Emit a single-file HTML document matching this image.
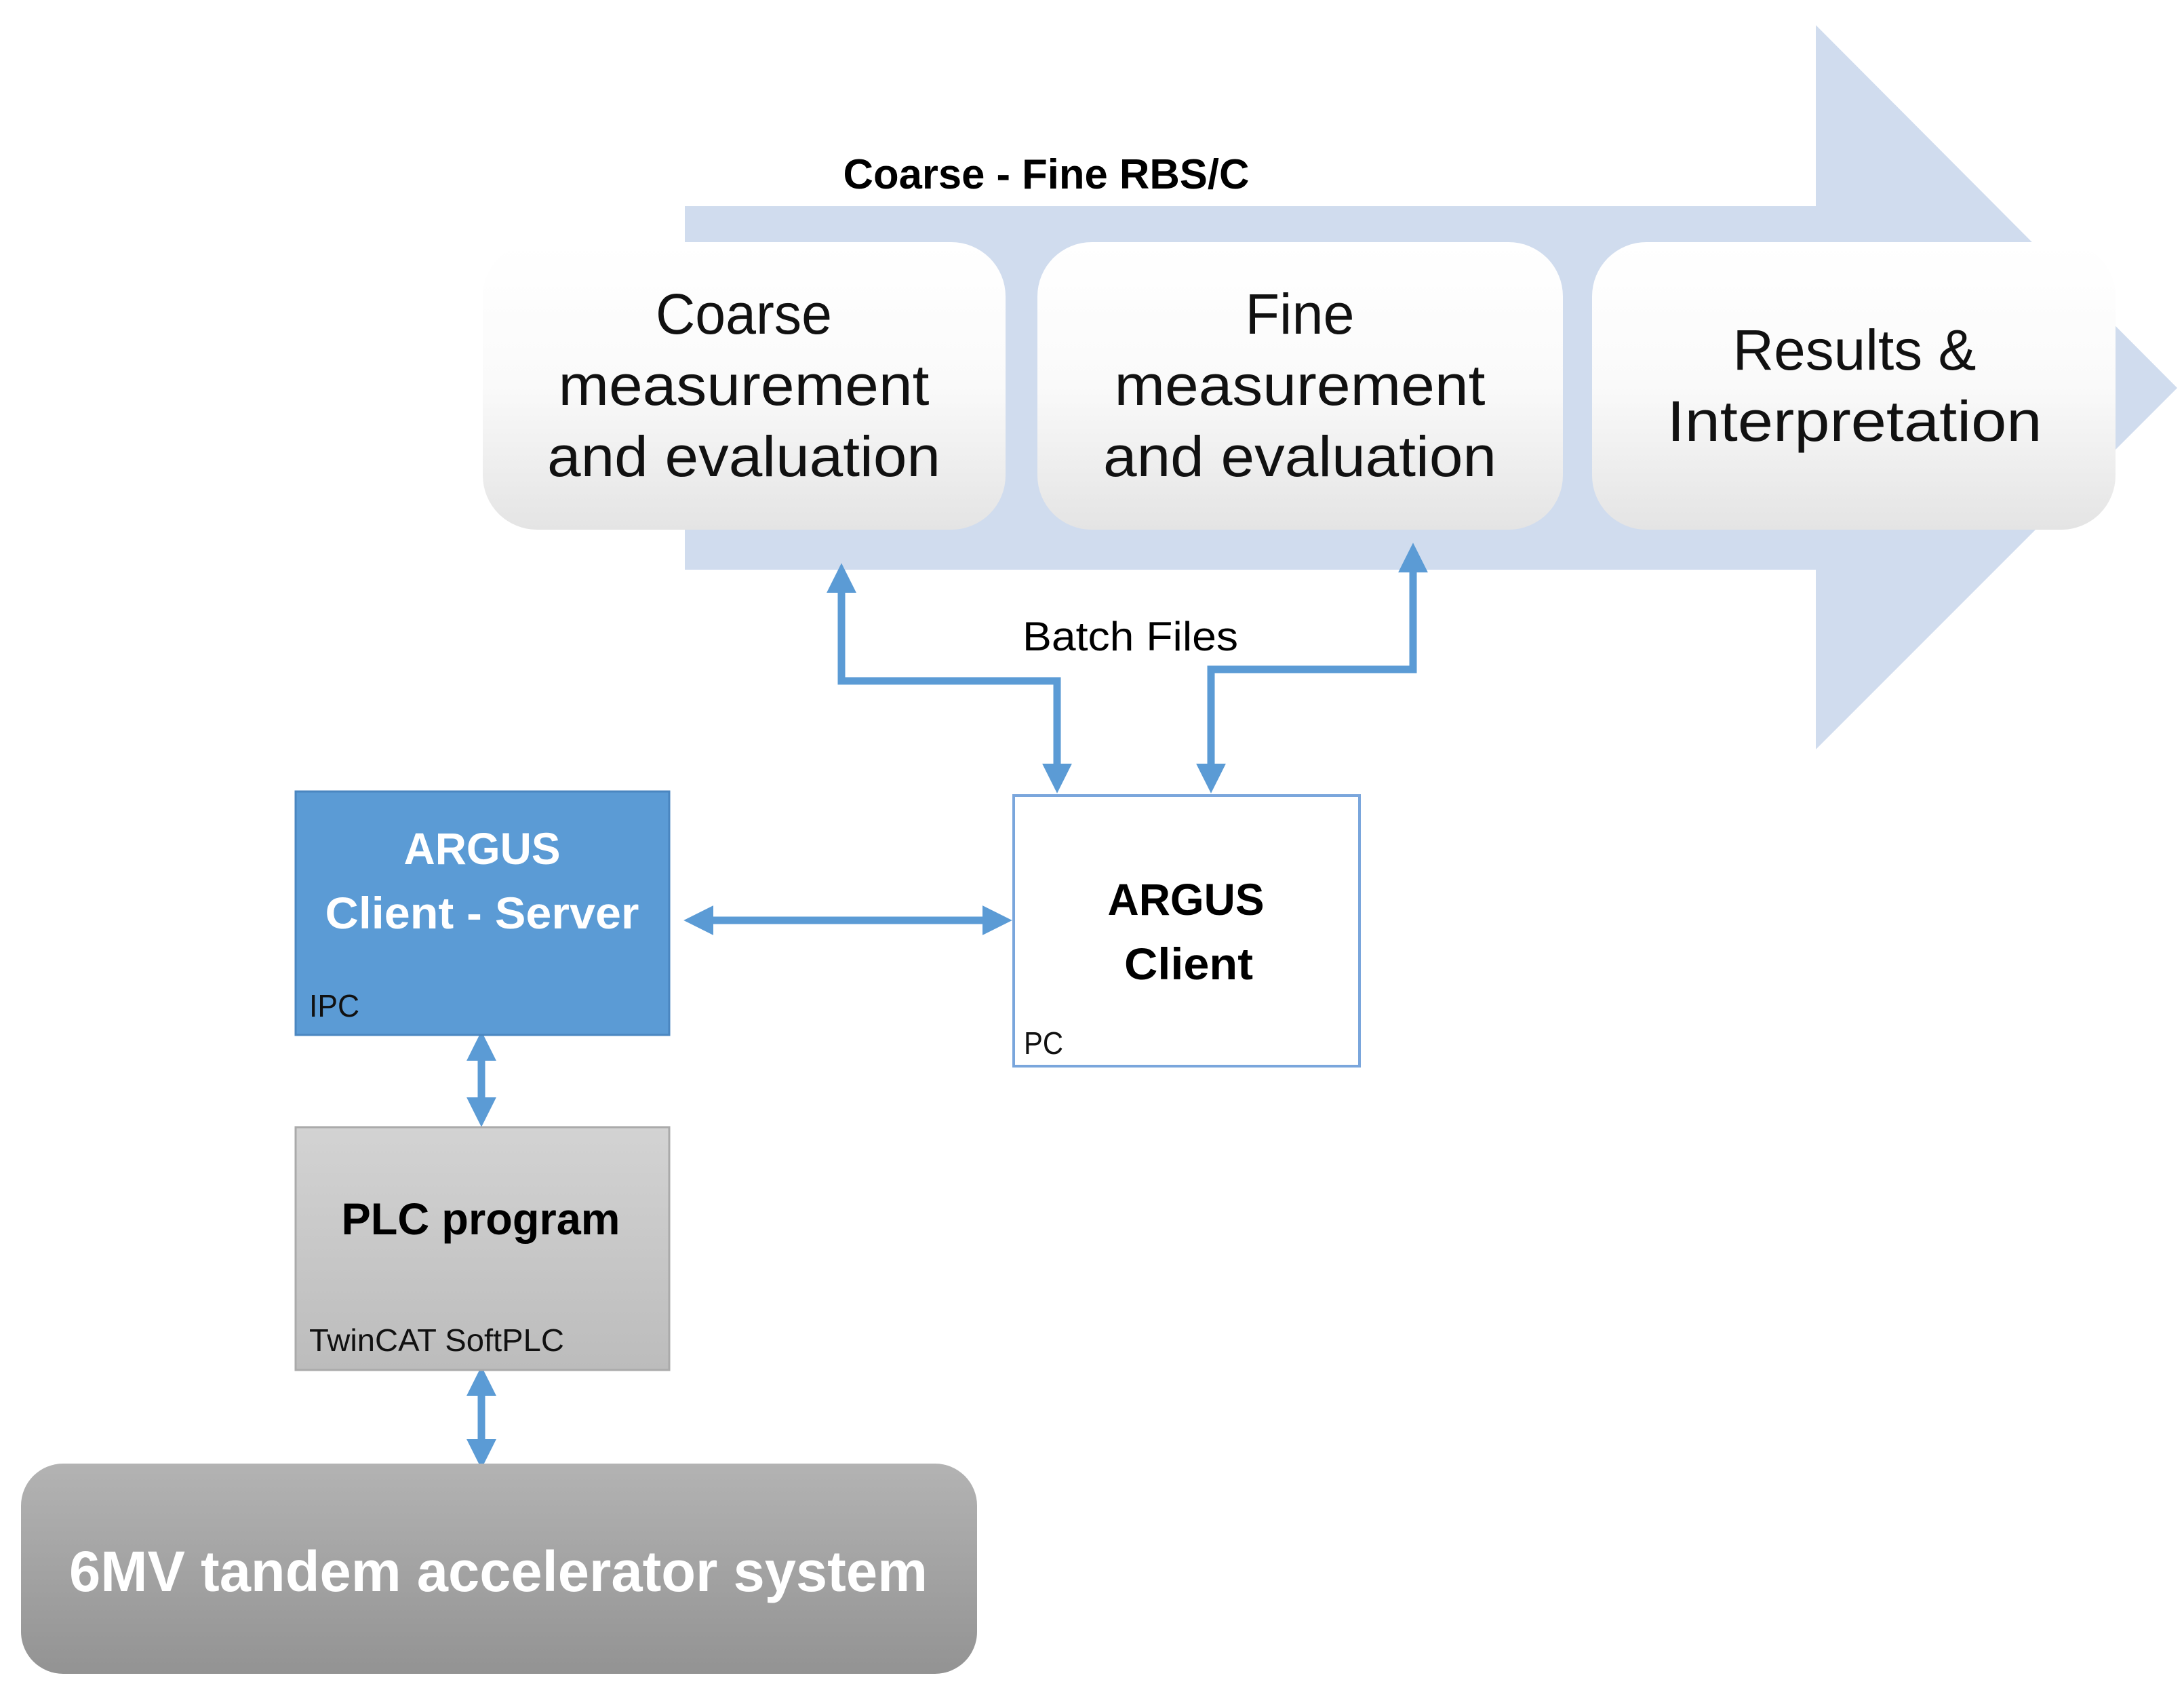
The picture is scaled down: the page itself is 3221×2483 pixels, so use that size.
<!DOCTYPE html>
<html><head><meta charset="utf-8"><style>html,body{margin:0;padding:0;background:#fff}svg{display:block}text{font-family:"Liberation Sans",sans-serif}</style></head>
<body>
<svg width="3221" height="2483" viewBox="0 0 3221 2483" xmlns="http://www.w3.org/2000/svg">
<defs>
<linearGradient id="gw" x1="0" y1="0" x2="0" y2="1"><stop offset="0" stop-color="#ffffff"/><stop offset="0.5" stop-color="#fafafa"/><stop offset="1" stop-color="#e4e4e4"/></linearGradient>
<linearGradient id="gp" x1="0" y1="0" x2="0" y2="1"><stop offset="0" stop-color="#d3d3d3"/><stop offset="1" stop-color="#bcbcbc"/></linearGradient>
<linearGradient id="gb" x1="0" y1="0" x2="0" y2="1"><stop offset="0" stop-color="#b3b3b3"/><stop offset="1" stop-color="#939393"/></linearGradient>
<marker id="ah" markerWidth="4" markerHeight="4" refX="2.2" refY="2" orient="auto-start-reverse" markerUnits="strokeWidth"><path d="M0,0 L4,2 L0,4 z" fill="#5b9bd5"/></marker>
</defs>
<polygon points="1010,304 2678,304 2678,37 3211,572 2678,1105 2678,840 1010,840" fill="#d0dcee"/>
<text x="1543" y="278" font-size="62" font-weight="bold" text-anchor="middle" textLength="599" lengthAdjust="spacingAndGlyphs">Coarse - Fine RBS/C</text>
<rect x="712" y="357" width="771" height="424" rx="80" fill="url(#gw)"/>
<rect x="1530" y="357" width="775" height="424" rx="80" fill="url(#gw)"/>
<rect x="2348" y="357" width="772" height="424" rx="80" fill="url(#gw)"/>
<g font-size="84" text-anchor="middle" fill="#111">
<text x="1097" y="492" textLength="260" lengthAdjust="spacingAndGlyphs">Coarse</text>
<text x="1097" y="597" textLength="547" lengthAdjust="spacingAndGlyphs">measurement</text>
<text x="1097" y="702" textLength="580" lengthAdjust="spacingAndGlyphs">and evaluation</text>
<text x="1917" y="492" textLength="161" lengthAdjust="spacingAndGlyphs">Fine</text>
<text x="1917" y="597" textLength="547" lengthAdjust="spacingAndGlyphs">measurement</text>
<text x="1917" y="702" textLength="580" lengthAdjust="spacingAndGlyphs">and evaluation</text>
<text x="2735" y="545" textLength="359" lengthAdjust="spacingAndGlyphs">Results &amp;</text>
<text x="2735" y="650" textLength="553" lengthAdjust="spacingAndGlyphs">Interpretation</text>
</g>
<text x="1667" y="959" font-size="60" text-anchor="middle" textLength="318" lengthAdjust="spacingAndGlyphs">Batch Files</text>
<g fill="none" stroke="#5b9bd5" stroke-width="11">
<polyline points="1241,850 1241,1004 1559,1004 1559,1150" marker-start="url(#ah)" marker-end="url(#ah)"/>
<polyline points="2084,820 2084,987 1786,987 1786,1150" marker-start="url(#ah)" marker-end="url(#ah)"/>
<line x1="1028" y1="1357" x2="1473" y2="1357" marker-start="url(#ah)" marker-end="url(#ah)"/>
<line x1="710" y1="1540" x2="710" y2="1642" marker-start="url(#ah)" marker-end="url(#ah)"/>
<line x1="710" y1="2034" x2="710" y2="2146" marker-start="url(#ah)" marker-end="url(#ah)"/>
</g>
<rect x="436" y="1167" width="551" height="359" fill="#5b9bd5" stroke="#4a86c0" stroke-width="3"/>
<text x="711" y="1274" font-size="66" font-weight="bold" fill="#fff" text-anchor="middle" textLength="231" lengthAdjust="spacingAndGlyphs">ARGUS</text>
<text x="711" y="1369" font-size="66" font-weight="bold" fill="#fff" text-anchor="middle" textLength="463" lengthAdjust="spacingAndGlyphs">Client - Server</text>
<text x="456" y="1499" font-size="46" fill="#111" textLength="74" lengthAdjust="spacingAndGlyphs">IPC</text>
<rect x="1495" y="1173" width="510" height="399" fill="#fff" stroke="#7aa6dc" stroke-width="4"/>
<text x="1749" y="1349" font-size="66" font-weight="bold" fill="#000" text-anchor="middle" textLength="231" lengthAdjust="spacingAndGlyphs">ARGUS</text>
<text x="1753" y="1444" font-size="66" font-weight="bold" fill="#000" text-anchor="middle" textLength="190" lengthAdjust="spacingAndGlyphs">Client</text>
<text x="1510" y="1554" font-size="46" fill="#111" textLength="58" lengthAdjust="spacingAndGlyphs">PC</text>
<rect x="436" y="1662" width="551" height="358" fill="url(#gp)" stroke="#aaa" stroke-width="3"/>
<text x="709" y="1820" font-size="66" font-weight="bold" fill="#000" text-anchor="middle" textLength="411" lengthAdjust="spacingAndGlyphs">PLC program</text>
<text x="456" y="1992" font-size="46" fill="#111" textLength="376" lengthAdjust="spacingAndGlyphs">TwinCAT SoftPLC</text>
<rect x="31" y="2158" width="1410" height="310" rx="62" fill="url(#gb)"/>
<text x="735" y="2346" font-size="84" font-weight="bold" fill="#fff" text-anchor="middle" textLength="1266" lengthAdjust="spacingAndGlyphs">6MV tandem accelerator system</text>
</svg>
</body></html>
